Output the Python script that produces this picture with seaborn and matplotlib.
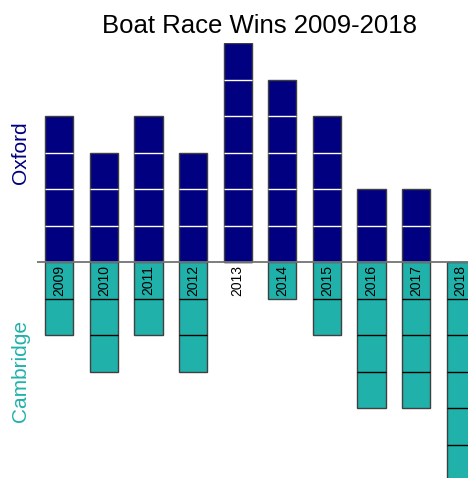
import numpy as np
import pandas as pd
import matplotlib
matplotlib.use("Agg")
import matplotlib.pyplot as plt
import seaborn as sns

# Boat Race wins, stacked as unit blocks
years = ["2009", "2010", "2011", "2012", "2013", "2014", "2015", "2016", "2017", "2018"]
oxford = [4, 3, 4, 3, 6, 5, 4, 2, 2, 0]
cambridge = [2, 3, 2, 3, 0, 1, 2, 4, 4, 6]

df = pd.DataFrame({"year": years, "oxford": oxford, "cambridge": [-c for c in cambridge]})

sns.set_style("white")
plt.rcParams["font.family"] = ["Liberation Sans", "DejaVu Sans"]
plt.rcParams["text.color"] = "black"

ox_col = "navy"
cam_col = "lightseagreen"
w = 0.63

fig = plt.figure(figsize=(4.68, 4.78), dpi=100)
ax = fig.add_axes([37 / 468, -3 / 478, 446 / 468, 438 / 478])

sns.barplot(data=df, x="year", y="oxford", color=ox_col, width=w,
            edgecolor="0.25", linewidth=1, saturation=1, ax=ax)
sns.barplot(data=df, x="year", y="cambridge", color=cam_col, width=w,
            edgecolor="0.25", linewidth=1, saturation=1, ax=ax)

# unit separators
for i, v in enumerate(oxford):
    for k in range(1, v):
        ax.hlines(k, i - w / 2, i + w / 2, color="white", lw=1, zorder=5)
for i, v in enumerate(cambridge):
    for k in range(1, v):
        ax.hlines(-k, i - w / 2, i + w / 2, color="black", lw=1, zorder=5)

ax.axhline(0, color="0.45", lw=1.3, zorder=6)

for i, y in enumerate(years):
    ax.text(i, -0.08, y, rotation=90, ha="center", va="top", fontsize=10,
            color="black", zorder=7)

ax.text(-0.87, 3, "Oxford", rotation=90, ha="center", va="center",
        fontsize=15, color=ox_col, clip_on=False)
ax.text(-0.87, -3, "Cambridge", rotation=90, ha="center", va="center",
        fontsize=15, color=cam_col, clip_on=False)

ax.set_xlim(-0.5, 9.5)
ax.set_ylim(-6, 6)
ax.set_xticks([])
ax.set_yticks([])
ax.set_xlabel("")
ax.set_ylabel("")
sns.despine(ax=ax, left=True, bottom=True)
ax.set_title("Boat Race Wins 2009-2018", fontsize=18.5, pad=7, color="black")

fig.savefig("out.png", dpi=100)
